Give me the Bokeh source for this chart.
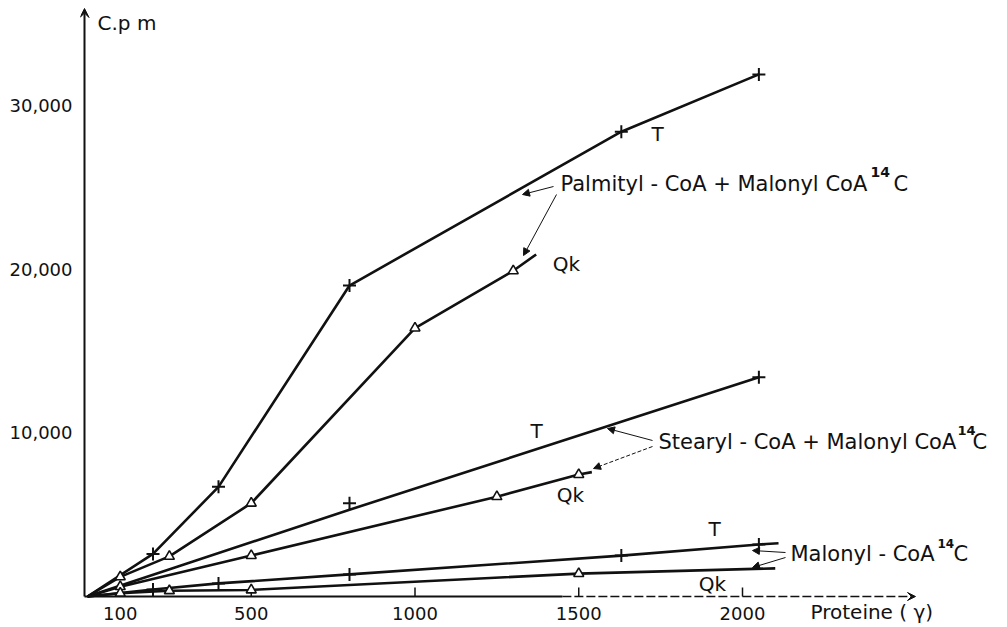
from bokeh.plotting import figure
from bokeh.models import (Arrow, VeeHead, NormalHead, Label, FixedTicker, Range1d)
from bokeh.core.properties import value
from bokeh.embed import file_html
from bokeh.resources import INLINE

# ---------------- data ----------------
x_ticks = [100, 500, 1000, 1500, 2000]
x_tick_labels = ["100", "500", "1000", "1500", "2000"]
y_ticks = [10000, 20000, 30000]
y_tick_labels = ["10,000", "20,000", "30,000"]

# Palmityl-CoA + Malonyl CoA 14C
palm_T_line_x = [0, 200, 400, 800, 1630, 2050]
palm_T_line_y = [0, 2600, 6700, 19000, 28400, 31900]
palm_T_pts_x = [200, 400, 800, 1630, 2050]
palm_T_pts_y = [2600, 6700, 19000, 28400, 31900]

palm_Qk_line_x = [0, 100, 250, 500, 1000, 1300, 1370]
palm_Qk_line_y = [0, 1200, 2450, 5700, 16400, 19900, 20900]
palm_Qk_pts_x = [100, 250, 500, 1000, 1300]
palm_Qk_pts_y = [1200, 2450, 5700, 16400, 19900]

# Stearyl-CoA + Malonyl CoA 14C
stea_T_line_x = [0, 800, 2050]
stea_T_line_y = [0, 5300, 13400]
stea_T_pts_x = [800, 2050]
stea_T_pts_y = [5700, 13400]

stea_Qk_line_x = [0, 100, 500, 1250, 1500, 1540]
stea_Qk_line_y = [0, 600, 2500, 6100, 7450, 7600]
stea_Qk_pts_x = [100, 500, 1250, 1500]
stea_Qk_pts_y = [600, 2500, 6100, 7450]

# Malonyl-CoA 14C
malo_T_line_x = [0, 200, 400, 800, 1630, 2050, 2110]
malo_T_line_y = [0, 430, 800, 1350, 2500, 3180, 3250]
malo_T_pts_x = [200, 400, 800, 1630, 2050]
malo_T_pts_y = [430, 800, 1350, 2500, 3180]

malo_Qk_line_x = [0, 100, 250, 500, 1500, 2100]
malo_Qk_line_y = [0, 200, 350, 400, 1400, 1720]
malo_Qk_pts_x = [100, 250, 500, 1500]
malo_Qk_pts_y = [200, 350, 400, 1400]

# ---------------- figure ----------------
W, H = 1007, 627
FL, FT = 80, 0              # frame left / top in page pixels
SX = 0.3275                 # px per protein unit
SY = 491 / 30000            # px per c.p.m
X0 = -(87 - FL) / SX
X1 = X0 + (W - FL) / SX
Y1 = 596 / SY
Y0 = -(H - 596) / SY
FONT = "DejaVu Sans"
INK = "#111111"

p = figure(width=W, height=H, x_range=Range1d(X0, X1), y_range=Range1d(Y0, Y1),
           x_axis_location=None,
           min_border_left=FL, min_border_right=0, min_border_top=0, min_border_bottom=0,
           toolbar_location=None, output_backend="svg")
p.outline_line_color = None
p.xgrid.visible = False
p.ygrid.visible = False
p.background_fill_color = "white"
p.border_fill_color = "white"

# y axis (library axis; its line is drawn as an arrow below)
p.yaxis.ticker = FixedTicker(ticks=y_ticks)
p.yaxis.major_label_overrides = dict(zip(y_ticks, y_tick_labels))
p.yaxis.axis_line_color = None
p.yaxis.minor_tick_line_color = None
p.yaxis.major_tick_line_color = None
p.yaxis.major_tick_in = 0
p.yaxis.major_tick_out = 0
p.yaxis.major_label_text_font = FONT
p.yaxis.major_label_text_font_size = "18px"
p.yaxis.major_label_text_color = INK
p.yaxis.major_label_standoff = 8


def dx(px):
    return X0 + (px - FL) / SX


def dy(py):
    return Y1 - (py - FT) / SY


# axis lines with arrows
p.add_layout(Arrow(end=VeeHead(size=9, line_color=INK, fill_color=INK),
                   x_start=dx(84), y_start=0, x_end=dx(84), y_end=dy(8),
                   line_color=INK, line_width=2))
p.segment(x0=[dx(84)], y0=[0], x1=[1450], y1=[0], line_color=INK, line_width=2)
p.add_layout(Arrow(end=VeeHead(size=8, line_color=INK, fill_color=INK),
                   x_start=1450, y_start=0, x_end=dx(915), y_end=0,
                   line_color=INK, line_width=1.5, line_dash="9 3"))

# x ticks (inward) and tick labels
p.segment(x0=x_ticks, y0=[0] * len(x_ticks), x1=x_ticks,
          y1=[dy(587)] * len(x_ticks), line_color=INK, line_width=1.5)
p.text(x=x_ticks, y=[dy(613)] * len(x_ticks), text=x_tick_labels,
       text_align="center", text_baseline="middle", text_font=value(FONT),
       text_font_size="18px", text_color=INK)

# series
series = [
    (palm_T_line_x, palm_T_line_y, palm_T_pts_x, palm_T_pts_y, "cross"),
    (palm_Qk_line_x, palm_Qk_line_y, palm_Qk_pts_x, palm_Qk_pts_y, "triangle"),
    (stea_T_line_x, stea_T_line_y, stea_T_pts_x, stea_T_pts_y, "cross"),
    (stea_Qk_line_x, stea_Qk_line_y, stea_Qk_pts_x, stea_Qk_pts_y, "triangle"),
    (malo_T_line_x, malo_T_line_y, malo_T_pts_x, malo_T_pts_y, "cross"),
    (malo_Qk_line_x, malo_Qk_line_y, malo_Qk_pts_x, malo_Qk_pts_y, "triangle"),
]
for lx, ly, mx, my, mk in series:
    p.line(lx, ly, line_color=INK, line_width=2.6)
    if mk == "cross":
        p.scatter(mx, my, marker="cross", size=13, line_color=INK, line_width=2)
    else:
        p.scatter(mx, my, marker="triangle", size=10, line_color=INK, line_width=1.6,
                  fill_color="white")


def lbl(text, px, py, align="left", size="21px", style="normal"):
    p.add_layout(Label(x=dx(px), y=dy(py), text=text, text_align=align,
                       text_baseline="middle", text_font=FONT, text_font_size=size,
                       text_font_style=style, text_color=INK))


def arr(px0, py0, px1, py1, dash="solid"):
    p.add_layout(Arrow(end=NormalHead(size=7, line_color=INK, fill_color=INK),
                       x_start=dx(px0), y_start=dy(py0), x_end=dx(px1), y_end=dy(py1),
                       line_color=INK, line_width=1, line_dash=dash))


lbl("C.p m", 97, 22, size="20px")
lbl("Proteine ( \u03b3)", 810, 611, size="20px")

lbl("T", 657, 133, "center", size="20px")
lbl("Palmityl - CoA + Malonyl CoA", 560, 183)
lbl("14", 870, 171, size="14px", style="bold")
lbl("C", 893, 183)
lbl("Qk", 566, 263, "center", size="20px")
arr(553, 186, 522, 194)
arr(556, 194, 523, 255)

lbl("T", 536, 430, "center", size="20px")
lbl("Stearyl - CoA + Malonyl CoA", 658, 441)
lbl("14", 957, 430, size="13px", style="bold")
lbl("C", 972, 441)
lbl("Qk", 570, 494, "center", size="20px")
arr(652, 440, 607, 428)
arr(652, 446, 593, 468, "4 2")

lbl("T", 714, 528, "center", size="20px")
lbl("Malonyl - CoA", 790, 553)
lbl("14", 937, 543, size="12px", style="bold")
lbl("C", 953, 553)
lbl("Qk", 712, 583, "center", size="20px")
arr(785, 552, 752, 550)
arr(785, 557, 752, 567)

open("out.html", "w").write(file_html(p, INLINE))
